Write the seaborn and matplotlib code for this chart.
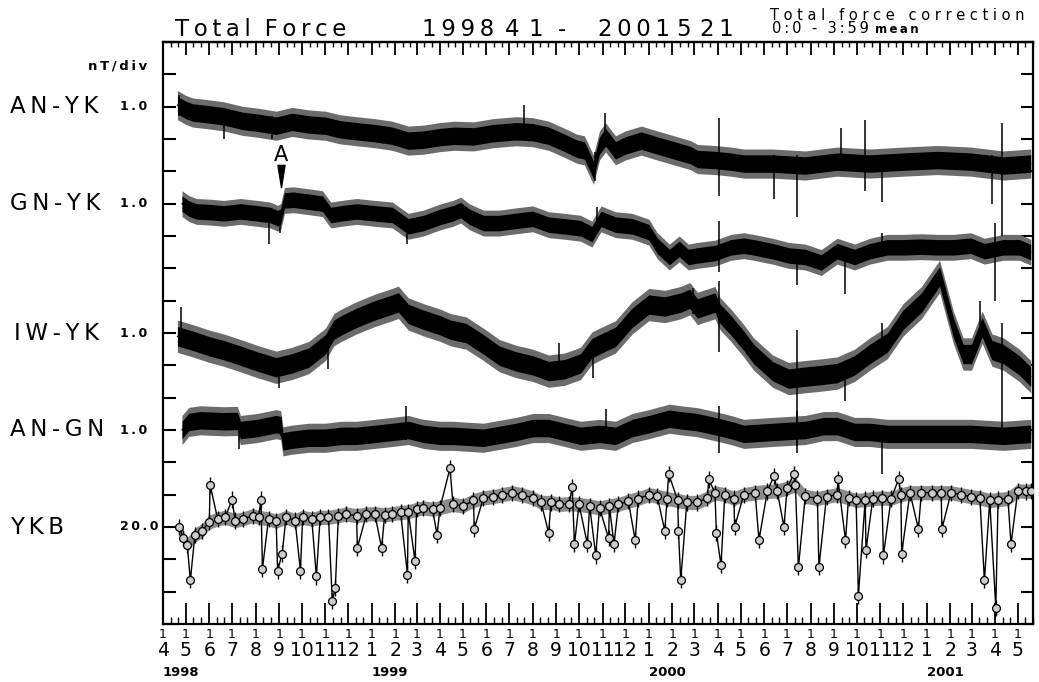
import numpy as np
import pandas as pd
import matplotlib
matplotlib.use("Agg")
import matplotlib.pyplot as plt
import matplotlib.dates as mdates
import matplotlib.transforms as mtransforms
from matplotlib.ticker import FuncFormatter
from matplotlib.path import Path
import seaborn as sns

# ---------------- data ----------------
period_start = "1998-04-01"
period_end = "2001-05-21"
series_labels = ["AN-YK", "GN-YK", "IW-YK", "AN-GN", "YKB"]
scale_labels = ["1.0", "1.0", "1.0", "1.0", "20.0"]
scale_nt_per_div = [1.0, 1.0, 1.0, 1.0, 20.0]

# AN-YK (nT, relative to its reference level)
anyk_dates = ["1998-04-20", "1998-05-01", "1998-05-10", "1998-06-01", "1998-06-20", "1998-07-15",
              "1998-08-05", "1998-08-28", "1998-09-18", "1998-10-10", "1998-11-01", "1998-11-20",
              "1998-12-12", "1999-01-05", "1999-01-28", "1999-02-18", "1999-03-10", "1999-04-01",
              "1999-04-20", "1999-05-15", "1999-06-10", "1999-07-10", "1999-08-01", "1999-08-22",
              "1999-09-12", "1999-09-28", "1999-10-08", "1999-10-20", "1999-10-28", "1999-11-05",
              "1999-11-18", "1999-12-01", "1999-12-22", "2000-01-12", "2000-02-03", "2000-02-25",
              "2000-03-05", "2000-03-28", "2000-04-18", "2000-05-05", "2000-06-12", "2000-07-25",
              "2000-09-05", "2000-10-18", "2000-12-01", "2001-01-15", "2001-02-28", "2001-04-12",
              "2001-05-18"]
anyk_vals = [0.05, -0.1, -0.18, -0.24, -0.3, -0.44,
             -0.5, -0.59, -0.47, -0.55, -0.59, -0.7,
             -0.76, -0.82, -0.9, -1.05, -1.02, -0.94,
             -0.9, -0.92, -0.82, -0.76, -0.79, -0.9,
             -1.12, -1.3, -1.35, -1.95, -1.2, -0.95,
             -1.35, -1.2, -1.05, -1.2, -1.35, -1.5,
             -1.62, -1.65, -1.7, -1.76, -1.76, -1.82,
             -1.7, -1.76, -1.7, -1.65, -1.7, -1.82,
             -1.76]
anyk_spike_dates = ["1998-04-22", "1998-06-20", "1998-08-23", "1999-07-20", "1999-10-22", "1999-11-04",
                    "2000-04-03", "2000-06-14", "2000-07-14", "2000-09-10", "2000-10-12", "2000-11-03",
                    "2001-03-28", "2001-04-10"]
anyk_spike_lo = [-0.3, -1.0, -1.0, -0.9, -2.3, -0.8, -2.75, -2.85, -3.4, -1.6, -2.6, -2.95, -3.0, -4.0]
anyk_spike_hi = [0.35, -0.2, -0.3, 0.05, -1.4, -0.2, -0.35, -1.5, -1.5, -0.65, -0.4, -1.5, -1.5, -0.5]

# GN-YK
gnyk_dates = ["1998-04-26", "1998-05-05", "1998-05-15", "1998-06-01", "1998-06-20", "1998-07-12",
              "1998-08-03", "1998-08-20", "1998-08-30", "1998-09-03", "1998-09-08", "1998-09-20",
              "1998-10-10", "1998-10-28", "1998-11-08", "1998-11-22", "1998-12-12", "1999-01-05",
              "1999-01-28", "1999-02-18", "1999-03-10", "1999-04-01", "1999-04-18", "1999-04-28",
              "1999-05-10", "1999-05-28", "1999-06-18", "1999-07-10", "1999-08-01", "1999-08-22",
              "1999-09-12", "1999-10-03", "1999-10-18", "1999-10-30", "1999-11-18", "1999-12-10",
              "2000-01-01", "2000-01-12", "2000-01-28", "2000-02-10", "2000-02-22", "2000-03-05",
              "2000-03-28", "2000-04-18", "2000-05-05", "2000-05-18", "2000-06-12", "2000-07-03",
              "2000-07-25", "2000-08-15", "2000-09-05", "2000-09-28", "2000-10-18", "2000-11-10",
              "2000-12-01", "2000-12-25", "2001-01-15", "2001-02-05", "2001-02-28", "2001-03-18",
              "2001-04-12", "2001-05-03", "2001-05-18"]
gnyk_vals = [0.0, -0.15, -0.24, -0.26, -0.3, -0.24,
             -0.3, -0.35, -0.45, -0.4, 0.1, 0.12,
             0.06, 0.0, -0.35, -0.3, -0.24, -0.3,
             -0.35, -0.7, -0.6, -0.41, -0.3, -0.2,
             -0.41, -0.6, -0.6, -0.53, -0.47, -0.65,
             -0.7, -0.76, -0.94, -0.47, -0.65, -0.7,
             -0.88, -1.3, -1.65, -1.4, -1.65, -1.6,
             -1.53, -1.35, -1.3, -1.35, -1.47, -1.6,
             -1.65, -1.82, -1.47, -1.65, -1.47, -1.35,
             -1.35, -1.33, -1.35, -1.35, -1.3, -1.47,
             -1.35, -1.35, -1.5]
gnyk_spike_dates = ["1998-08-18", "1998-09-02", "1999-02-17", "1999-10-25", "2000-04-03", "2000-07-14",
                    "2000-09-15", "2000-11-03", "2001-04-01"]
gnyk_spike_lo = [-1.24, -0.9, -1.25, -0.9, -2.1, -2.5, -2.8, -1.6, -3.0]
gnyk_spike_hi = [-0.3, -0.3, -0.5, -0.1, -0.55, -1.4, -1.5, -0.9, -0.6]

# IW-YK
iwyk_dates = ["1998-04-20", "1998-05-10", "1998-06-01", "1998-06-20", "1998-07-12", "1998-08-03",
              "1998-08-28", "1998-09-18", "1998-10-10", "1998-11-01", "1998-11-12", "1998-11-22",
              "1998-12-12", "1999-01-05", "1999-01-28", "1999-02-05", "1999-02-18", "1999-03-10",
              "1999-04-01", "1999-04-15", "1999-05-05", "1999-05-28", "1999-06-18", "1999-07-10",
              "1999-08-01", "1999-08-22", "1999-09-12", "1999-10-03", "1999-10-18", "1999-10-28",
              "1999-11-18", "1999-12-10", "2000-01-01", "2000-01-22", "2000-02-12", "2000-02-24",
              "2000-03-05", "2000-03-28", "2000-04-04", "2000-04-18", "2000-05-05", "2000-05-18",
              "2000-06-12", "2000-07-03", "2000-07-25", "2000-08-15", "2000-09-05", "2000-09-28",
              "2000-10-18", "2000-11-10", "2000-12-01", "2000-12-25", "2001-01-18", "2001-02-05",
              "2001-02-18", "2001-03-01", "2001-03-15", "2001-03-28", "2001-04-12", "2001-05-03",
              "2001-05-18"]
iwyk_vals = [-0.1, -0.24, -0.41, -0.53, -0.7, -0.88,
             -1.06, -0.94, -0.76, -0.35, 0.1, 0.24,
             0.47, 0.7, 0.88, 0.95, 0.59, 0.41,
             0.24, 0.1, 0.0, -0.35, -0.7, -0.88,
             -1.0, -1.18, -1.12, -0.94, -0.47, -0.35,
             -0.12, 0.47, 0.88, 0.82, 0.94, 1.06,
             0.76, 0.94, 0.59, 0.24, -0.24, -0.65,
             -1.18, -1.41, -1.35, -1.3, -1.24, -1.0,
             -0.65, -0.3, 0.41, 0.94, 1.75, 0.18,
             -0.65, -0.65, 0.18, -0.53, -0.65, -1.0,
             -1.35]
iwyk_spike_dates = ["1998-04-25", "1998-09-01", "1998-11-05", "1999-09-05", "1999-10-20", "2000-02-28",
                    "2000-04-03", "2000-07-14", "2000-09-15", "2000-11-03", "2001-03-12", "2001-04-10"]
iwyk_spike_lo = [-0.1, -1.7, -1.1, -1.2, -1.4, 0.6, -0.6, -3.5, -2.1, -0.6, 0.0, -3.2]
iwyk_spike_hi = [0.8, -0.9, -0.2, -0.3, -0.6, 1.4, 1.6, 0.1, -1.0, 0.3, 1.0, 0.3]

# AN-GN
angn_dates = ["1998-04-26", "1998-05-05", "1998-05-20", "1998-06-20", "1998-07-08", "1998-07-12",
              "1998-08-03", "1998-08-28", "1998-09-03", "1998-09-06", "1998-09-18", "1998-10-10",
              "1998-11-01", "1998-11-22", "1998-12-12", "1999-01-05", "1999-01-28", "1999-02-18",
              "1999-03-10", "1999-04-01", "1999-04-18", "1999-05-28", "1999-07-10", "1999-08-01",
              "1999-08-22", "1999-09-12", "1999-10-03", "1999-10-28", "1999-11-18", "1999-12-10",
              "2000-01-01", "2000-01-28", "2000-02-12", "2000-03-05", "2000-03-28", "2000-04-18",
              "2000-05-05", "2000-06-12", "2000-07-25", "2000-08-18", "2000-09-05", "2000-09-28",
              "2000-10-18", "2000-11-10", "2000-12-01", "2001-01-15", "2001-02-28", "2001-04-12",
              "2001-05-18"]
angn_vals = [0.0, 0.25, 0.3, 0.27, 0.28, 0.0,
             0.06, 0.18, 0.15, -0.35, -0.3, -0.24,
             -0.24, -0.18, -0.18, -0.12, -0.06, 0.0,
             -0.12, -0.18, -0.18, -0.24, -0.06, 0.06,
             0.06, -0.06, -0.18, -0.12, -0.18, 0.06,
             0.18, 0.35, 0.3, 0.24, 0.12, 0.0,
             -0.12, -0.06, 0.0, 0.12, 0.12, -0.06,
             -0.06, -0.12, -0.12, -0.12, -0.12, -0.18,
             -0.12]
angn_spike_dates = ["1998-07-10", "1998-09-03", "1999-02-15", "1999-11-05", "2000-04-03", "2000-07-14",
                    "2000-11-03"]
angn_spike_lo = [-0.6, -0.2, -0.3, -0.3, -0.7, -0.7, -1.35]
angn_spike_hi = [0.3, 0.4, 0.75, 0.65, 0.75, 0.6, -0.2]

# YKB (nT) - regular points and isolated excursions
ykb_dates = ["1998-04-22", "1998-04-28", "1998-05-03", "1998-05-13", "1998-05-22", "1998-06-01",
             "1998-06-12", "1998-06-22", "1998-07-05", "1998-07-15", "1998-07-28", "1998-08-05",
             "1998-08-18", "1998-08-28", "1998-09-10", "1998-09-22", "1998-10-02", "1998-10-14",
             "1998-10-25", "1998-11-05", "1998-11-18", "1998-11-28", "1998-12-12", "1998-12-25",
             "1999-01-05", "1999-01-18", "1999-01-28", "1999-02-08", "1999-02-18", "1999-03-01",
             "1999-03-10", "1999-03-22", "1999-04-01", "1999-04-18", "1999-05-01", "1999-05-15",
             "1999-05-28", "1999-06-10", "1999-06-22", "1999-07-05", "1999-07-18", "1999-08-01",
             "1999-08-12", "1999-08-25", "1999-09-05", "1999-09-18", "1999-10-01", "1999-10-15",
             "1999-10-28", "1999-11-10", "1999-11-22", "1999-12-05", "1999-12-18", "2000-01-01",
             "2000-01-12", "2000-01-25", "2000-02-08", "2000-02-20", "2000-03-05", "2000-03-18",
             "2000-03-28", "2000-04-10", "2000-04-22", "2000-05-05", "2000-05-20", "2000-06-05",
             "2000-06-18", "2000-07-01", "2000-07-12", "2000-07-25", "2000-08-10", "2000-08-22",
             "2000-09-05", "2000-09-20", "2000-09-30", "2000-10-12", "2000-10-22", "2000-11-03",
             "2000-11-15", "2000-11-28", "2000-12-10", "2000-12-25", "2001-01-08", "2001-01-20",
             "2001-02-02", "2001-02-15", "2001-02-28", "2001-03-12", "2001-03-25", "2001-04-05",
             "2001-04-18", "2001-05-01", "2001-05-12", "2001-05-19"]
ykb_vals = [0.0, -7.0, -11.0, -5.0, -2.4, 3.0,
            5.0, 6.0, 4.0, 5.0, 7.0, 6.0,
            5.0, 3.6, 6.0, 4.0, 6.0, 4.8,
            6.0, 6.0, 7.0, 8.0, 7.0, 8.0,
            8.2, 7.6, 8.2, 9.0, 9.4, 11.0,
            11.8, 11.0, 12.0, 14.0, 13.0, 16.4,
            18.0, 18.8, 20.0, 21.2, 20.0, 18.0,
            15.2, 15.2, 14.0, 14.4, 14.0, 13.0,
            11.8, 13.0, 14.0, 16.0, 17.6, 20.0,
            19.0, 17.6, 16.4, 15.2, 15.2, 18.0,
            21.2, 20.0, 17.6, 20.0, 21.2, 22.0,
            22.4, 24.0, 26.0, 19.0, 17.6, 18.8,
            20.0, 18.0, 16.4, 17.0, 17.6, 18.0,
            17.6, 20.0, 21.2, 21.2, 21.2, 21.2,
            21.2, 20.0, 18.8, 18.0, 16.4, 17.0,
            17.6, 22.4, 22.0, 22.4]
ykb_spike_dates = ["1998-05-07", "1998-06-02", "1998-07-01", "1998-08-08", "1998-08-10", "1998-08-30",
                   "1998-09-05", "1998-09-29", "1998-10-20", "1998-11-10", "1998-11-14", "1998-12-13",
                   "1999-01-14", "1999-02-17", "1999-02-27", "1999-03-28", "1999-04-14", "1999-05-16",
                   "1999-08-22", "1999-09-22", "1999-09-25", "1999-10-12", "1999-10-23", "1999-11-09",
                   "1999-11-16", "1999-12-14", "2000-01-22", "2000-01-27", "2000-02-09", "2000-02-12",
                   "2000-03-20", "2000-03-30", "2000-04-05", "2000-04-23", "2000-05-25", "2000-06-14",
                   "2000-06-27", "2000-07-10", "2000-07-16", "2000-08-12", "2000-09-06", "2000-09-16",
                   "2000-10-03", "2000-10-13", "2000-11-05", "2000-11-25", "2000-11-29", "2000-12-21",
                   "2001-01-21", "2001-03-18", "2001-04-02", "2001-04-22"]
ykb_spike_vals = [-33.0, 26.0, 17.0, 17.0, -25.8, -27.0,
                  -16.4, -27.0, -30.6, -45.8, -37.6, -13.0,
                  -13.0, -29.4, -21.2, -4.8, 36.4, -1.2,
                  -3.6, 24.8, -10.6, -10.6, -17.6, -7.0,
                  -10.6, -8.2, -2.4, 33.0, -2.4, -33.0,
                  29.4, -3.6, -23.6, 0.0, -8.2, 31.8,
                  0.0, 33.0, -24.8, -24.8, 29.4, -8.2,
                  -42.4, -14.2, -17.6, 29.4, -16.4, -1.2,
                  -1.2, -33.0, -50.0, -10.6]

event_a_date = "1998-09-03"

# ---------------- layout / style ----------------
W, H = 1039, 682
AX_L, AX_R, AX_T, AX_B = 163, 1033, 42, 624
N_DIV = 18
base_div = {"AN-YK": 16, "GN-YK": 13, "IW-YK": 9, "AN-GN": 6, "YKB": 3}
band_half = {"AN-YK": 0.45, "GN-YK": 0.4, "IW-YK": 0.5, "AN-GN": 0.45}
ykb_band_half = 0.22
ykb_err_nt = 5.0

sns.set_theme(style="ticks", rc={"axes.edgecolor": "black", "xtick.color": "black",
                                 "ytick.color": "black", "text.color": "black"})
plt.rcParams["font.family"] = ["DejaVu Sans"]

THIN = "\u2009"


def spaced(s, gap=THIN):
    return gap.join(s)


fig = plt.figure(figsize=(W / 100, H / 100), dpi=100)
ax = fig.add_axes([AX_L / W, 1 - AX_B / H, (AX_R - AX_L) / W, (AX_B - AX_T) / H])

diff_series = [
    ("AN-YK", anyk_dates, anyk_vals, anyk_spike_dates, anyk_spike_lo, anyk_spike_hi),
    ("GN-YK", gnyk_dates, gnyk_vals, gnyk_spike_dates, gnyk_spike_lo, gnyk_spike_hi),
    ("IW-YK", iwyk_dates, iwyk_vals, iwyk_spike_dates, iwyk_spike_lo, iwyk_spike_hi),
    ("AN-GN", angn_dates, angn_vals, angn_spike_dates, angn_spike_lo, angn_spike_hi),
]

for name, d, v, sd, slo, shi in diff_series:
    scale = scale_nt_per_div[series_labels.index(name)]
    base = base_div[name]
    df = pd.DataFrame({"date": pd.to_datetime(d), "y": base + np.asarray(v) / scale})
    hw = band_half[name]
    ax.fill_between(df["date"], df["y"] - hw, df["y"] + hw, color="0.42", lw=0, zorder=2)
    ax.fill_between(df["date"], df["y"] - hw * 0.6, df["y"] + hw * 0.6, color="black", lw=0, zorder=3)
    sns.lineplot(data=df, x="date", y="y", ax=ax, color="black", lw=1.0, zorder=4)
    ax.vlines(pd.to_datetime(sd), base + np.asarray(slo) / scale, base + np.asarray(shi) / scale,
              color="black", lw=1.1, zorder=4)

# YKB
ykb_scale = scale_nt_per_div[series_labels.index("YKB")]
ykb_reg = pd.DataFrame({"date": pd.to_datetime(ykb_dates), "nT": ykb_vals})
ykb_reg["y"] = base_div["YKB"] + ykb_reg["nT"] / ykb_scale
ykb = pd.concat([
    ykb_reg[["date", "nT"]],
    pd.DataFrame({"date": pd.to_datetime(ykb_spike_dates), "nT": ykb_spike_vals}),
]).sort_values("date").reset_index(drop=True)
ykb["y"] = base_div["YKB"] + ykb["nT"] / ykb_scale
ax.fill_between(ykb_reg["date"], ykb_reg["y"] - ykb_band_half, ykb_reg["y"] + ykb_band_half,
                color="0.55", lw=0, zorder=2)
ax.vlines(ykb["date"], ykb["y"] - ykb_err_nt / ykb_scale, ykb["y"] + ykb_err_nt / ykb_scale,
          color="black", lw=1.0, zorder=4)
sns.lineplot(data=ykb, x="date", y="y", ax=ax, color="black", lw=1.0, estimator=None, zorder=4)
sns.scatterplot(data=ykb, x="date", y="y", ax=ax, marker="o", s=32, color="0.8",
                edgecolor="black", linewidth=0.9, zorder=5)

# Event A marker
tri = Path([(-0.32, 1.0), (0.32, 1.0), (0.0, -1.0), (-0.32, 1.0)],
           [Path.MOVETO, Path.LINETO, Path.LINETO, Path.CLOSEPOLY])
ax.plot([pd.Timestamp(event_a_date)], [base_div["GN-YK"] + 0.85], marker=tri, markersize=16,
        color="black", linestyle="none", zorder=6)
ax.text(pd.Timestamp(event_a_date), base_div["GN-YK"] + 1.5, "A", ha="center", va="center",
        fontsize=15, zorder=6)

# axes limits / ticks
ax.set_xlim(pd.Timestamp(period_start), pd.Timestamp(period_end))
ax.set_ylim(0, N_DIV)
ax.set_xlabel("")
ax.set_ylabel("")
ax.set_yticks(np.arange(0, N_DIV + 1))
ax.tick_params(axis="y", which="major", direction="in", left=True, right=True, length=9,
               width=1.5, labelleft=False, labelright=False)
ax.xaxis.set_major_locator(mdates.MonthLocator())
ax.xaxis.set_minor_locator(mdates.DayLocator(bymonthday=[11, 21]))
ax.xaxis.set_major_formatter(FuncFormatter(lambda x, pos: str(mdates.num2date(x).day)))
ax.tick_params(axis="x", which="major", direction="in", bottom=True, top=False, length=15,
               width=1.3, labelsize=9, pad=3)
ax.tick_params(axis="x", which="minor", direction="in", bottom=True, top=False, length=5, width=1.0)
for sp in ax.spines.values():
    sp.set_linewidth(1.6)
    sp.set_color("black")

sec = ax.secondary_xaxis("top")
sec.xaxis.set_major_locator(mdates.MonthLocator())
sec.xaxis.set_minor_locator(mdates.DayLocator(bymonthday=[11, 21]))
sec.tick_params(axis="x", which="major", direction="in", length=9, width=1.3, labeltop=False)
sec.tick_params(axis="x", which="minor", direction="in", length=3.5, width=1.0)
sec.spines["top"].set_linewidth(1.6)

# month numbers and years under the axis
xtr = ax.get_xaxis_transform()
months = pd.date_range(period_start, period_end, freq="MS")
for i, d in enumerate(months):
    ax.text(d, -(650 - AX_B) / (AX_B - AX_T), str(d.month), transform=xtr, ha="center",
            va="center", fontsize=13.5, clip_on=False)
    if i == 0 or d.month == 1:
        ax.text(d, -(673 - AX_B) / (AX_B - AX_T), str(d.year), transform=xtr, ha="left",
                va="center", fontsize=9.5, fontweight="bold", clip_on=False)

# left-side labels
ltr = mtransforms.blended_transform_factory(fig.transFigure, ax.transData)
for name, sc in zip(series_labels, scale_labels):
    y = base_div[name]
    xl = 14 if name.startswith("I") else 10
    fig.text(xl / W, y, spaced(name), transform=ltr, fontsize=16.5, ha="left", va="center")
    fig.text(120 / W, y, spaced(sc), transform=ltr, fontsize=9, ha="left", va="center",
             fontweight="bold")
fig.text(147 / W, 1 - 66 / H, spaced("nT/div"), fontsize=9.5, fontweight="bold", ha="right",
         va="center")

# titles
title_y = 1 - 36 / H
fig.text(175 / W, title_y, spaced("Total") + THIN * 3 + spaced("Force"), fontsize=16.5,
         ha="left", va="baseline")
for txt, xp in [("1998", 422), ("4", 505), ("1", 528), ("-", 558), ("2001", 598), ("5", 676),
                ("21", 700)]:
    fig.text(xp / W, title_y, spaced(txt), fontsize=16.5, ha="left", va="baseline")
fig.text(770 / W, 1 - 20 / H, " ".join("Total force correction"), fontsize=10.5, ha="left",
         va="baseline")
fig.text(772 / W, 1 - 33 / H, spaced("0:0 - 3:59"), fontsize=10.5, ha="left", va="baseline")
fig.text(875 / W, 1 - 33 / H, spaced("mean"), fontsize=8.5, ha="left", va="baseline",
         fontweight="bold")

fig.savefig("out.png", dpi=100, facecolor="white")
